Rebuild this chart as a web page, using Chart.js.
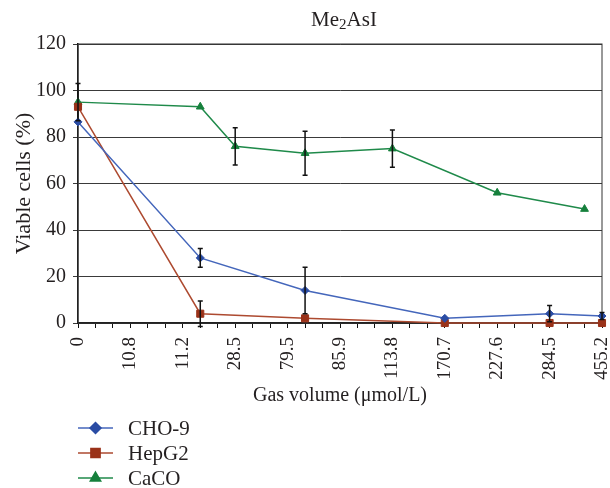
<!DOCTYPE html>
<html>
<head>
<meta charset="utf-8">
<script src="https://cdn.jsdelivr.net/npm/chart.js@4/dist/chart.umd.min.js"></script>
<style>
  html, body { margin: 0; padding: 0; background: #fff; }
  #wrap { width: 610px; height: 488px; }
</style>
</head>
<body>
<div id="wrap"><canvas id="chart" width="610" height="488"></canvas></div>
<script>
// x tick labels, one on every third slot of the axis
const tickLabels = ['0', '10.8', '11.2', '28.5', '79.5', '85.9', '113.8', '170.7', '227.6', '284.5', '455.2'];

// slot positions along the x axis (0..30) and values per series
const choX = [0, 7, 13, 21, 27, 30];
const choY = [86.5, 28, 14, 2, 4, 3];
const choErr = [0, 4, 10, 0, 3.5, 1.5];

const hepX = [0, 7, 13, 21, 27, 30];
const hepY = [93, 4, 2, 0, 0, 0];
const hepErr = [0, 5.5, 0, 0, 0, 0];

const cacoX = [0, 7, 9, 13, 18, 24, 29];
const cacoY = [95, 93, 76, 73, 75, 56, 49];
const cacoErr = [8, 0, 8, 9.5, 8, 0, 0];

const FONT = '"Liberation Serif", "Times New Roman", serif';
const TEXT = '#231f20';

const toPoints = (xs, ys) => xs.map((x, i) => ({ x: x, y: ys[i] }));

// error bars, title, border and legend drawn on top of the chart
const extras = {
  id: 'extras',
  beforeDatasetsDraw(chart) {
    const { ctx, chartArea: a } = chart;
    ctx.save();
    ctx.strokeStyle = '#333';
    ctx.lineWidth = 1;
    ctx.strokeRect(a.left, a.top, a.right - a.left, a.bottom - a.top);
    ctx.restore();
  },
  afterDatasetsDraw(chart) {
    const { ctx, scales: { x, y } } = chart;
    ctx.save();
    ctx.strokeStyle = '#111';
    ctx.lineWidth = 1.5;
    chart.data.datasets.forEach(ds => {
      ds.data.forEach((p, i) => {
        const e = ds.errors[i];
        if (!e) return;
        const px = x.getPixelForValue(p.x);
        const top = y.getPixelForValue(p.y + e);
        const bot = y.getPixelForValue(p.y - e);
        ctx.beginPath();
        ctx.moveTo(px, top); ctx.lineTo(px, bot);
        ctx.moveTo(px - 2.5, top); ctx.lineTo(px + 2.5, top);
        ctx.moveTo(px - 2.5, bot); ctx.lineTo(px + 2.5, bot);
        ctx.stroke();
      });
    });
    ctx.restore();
  },
  afterDraw(chart) {
    const { ctx, chartArea: a } = chart;
    ctx.save();
    ctx.fillStyle = TEXT;
    ctx.textBaseline = 'middle';

    // title with subscript 2
    const big = '21px ' + FONT, small = '15px ' + FONT;
    ctx.font = big;
    const w1 = ctx.measureText('Me').width, w3 = ctx.measureText('AsI').width;
    ctx.font = small;
    const w2 = ctx.measureText('2').width;
    let tx = (a.left + a.right) / 2 + 4 - (w1 + w2 + w3) / 2;
    const ty = 20;
    ctx.textAlign = 'left';
    ctx.font = big; ctx.fillText('Me', tx, ty); tx += w1;
    ctx.font = small; ctx.fillText('2', tx, ty + 5); tx += w2;
    ctx.font = big; ctx.fillText('AsI', tx, ty);

    // legend, one item per row
    ctx.font = '21px ' + FONT;
    chart.data.datasets.forEach((ds, i) => {
      const ry = 428 + i * 25;
      ctx.strokeStyle = ds.borderColor;
      ctx.lineWidth = 1.5;
      ctx.beginPath(); ctx.moveTo(78, ry); ctx.lineTo(113, ry); ctx.stroke();
      ctx.fillStyle = ds.pointBackgroundColor;
      ctx.strokeStyle = ds.pointBackgroundColor;
      Chart.helpers.drawPoint(ctx, {
        pointStyle: ds.pointStyle, radius: ds.pointRadius + 1.5, borderWidth: 1
      }, 95.5, ry);
      ctx.fillStyle = TEXT;
      ctx.fillText(ds.label, 128, ry + 1);
    });
    ctx.restore();
  }
};

const series = (label, xs, ys, errs, line, mark, style, r) => ({
  label: label,
  data: toPoints(xs, ys),
  errors: errs,
  borderColor: line,
  borderWidth: 1.5,
  pointBackgroundColor: mark,
  pointBorderColor: mark,
  pointStyle: style,
  pointRadius: r,
  pointBorderWidth: 1,
  tension: 0,
  clip: false
});

new Chart(document.getElementById('chart'), {
  type: 'line',
  data: {
    datasets: [
      series('CHO-9', choX, choY, choErr, '#4466bb', '#2a4ca4', 'rectRot', 4),
      series('HepG2', hepX, hepY, hepErr, '#ad4a30', '#9a3219', 'rect', 5),
      series('CaCO', cacoX, cacoY, cacoErr, '#1f8a4a', '#16803c', 'triangle', 4.5)
    ]
  },
  options: {
    responsive: false,
    animation: false,
    layout: { padding: { top: 44, right: 8, bottom: 80, left: 0 } },
    plugins: {
      legend: { display: false },
      title: { display: false },
      tooltip: { enabled: false }
    },
    scales: {
      x: {
        type: 'linear',
        min: 0,
        max: 30,
        afterFit(scale) {
          scale.height = 85;
          scale.paddingLeft = 0;
          scale.paddingRight = 0;
        },
        ticks: {
          stepSize: 1,
          autoSkip: false,
          minRotation: 90,
          maxRotation: 90,
          padding: 9,
          color: TEXT,
          font: { family: FONT, size: 19 },
          callback: v => (v % 3 === 0 ? tickLabels[v / 3] : '')
        },
        grid: { drawOnChartArea: false, drawTicks: true, tickLength: 5, color: '#111' },
        border: { color: '#111', width: 1.5 },
        title: {
          display: true,
          text: 'Gas volume (μmol/L)',
          color: TEXT,
          font: { family: FONT, size: 20 },
          padding: { top: 4, bottom: 0 }
        }
      },
      y: {
        min: 0,
        max: 120,
        afterFit(scale) { scale.width = 78; },
        ticks: {
          stepSize: 20,
          padding: 7,
          color: TEXT,
          font: { family: FONT, size: 20 }
        },
        grid: { color: '#3a3a3a', lineWidth: 1, tickLength: 5 },
        border: { color: '#111', width: 1.5 },
        title: {
          display: true,
          text: 'Viable cells (%)',
          color: TEXT,
          font: { family: FONT, size: 22 },
          padding: { top: 11, bottom: 0 }
        }
      }
    }
  },
  plugins: [extras]
});
</script>
</body>
</html>
